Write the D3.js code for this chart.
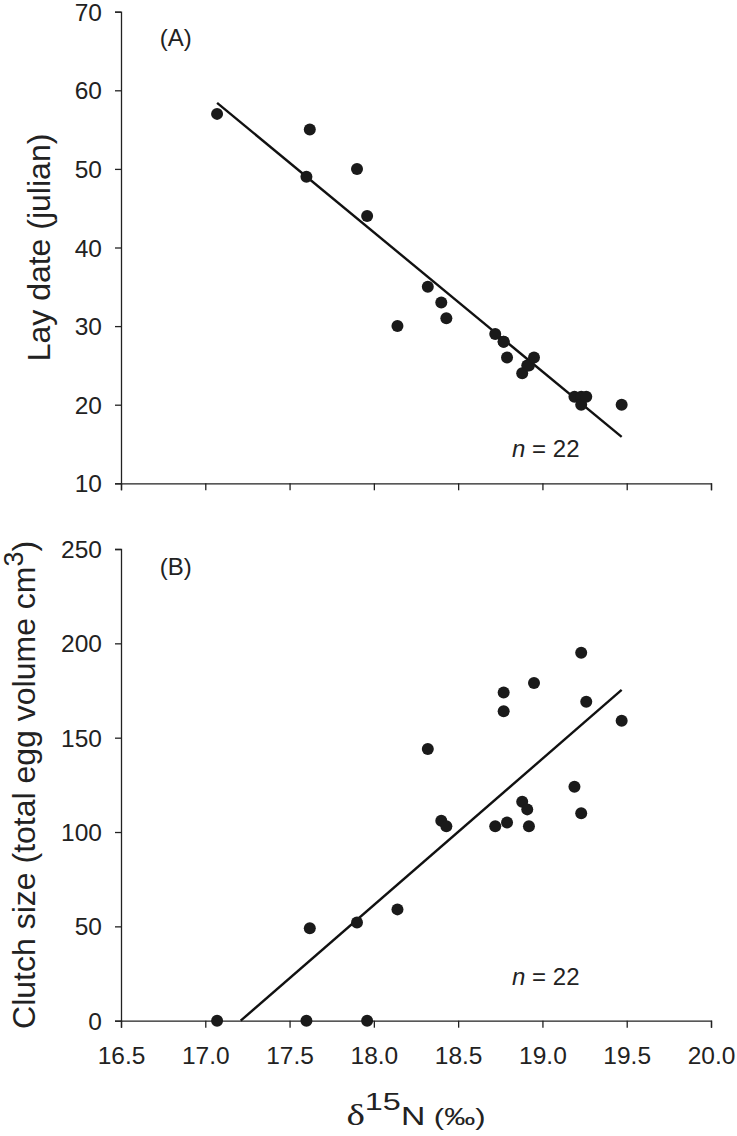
<!doctype html>
<html>
<head>
<meta charset="UTF-8" />
<script src="https://d3js.org/d3.v7.min.js"></script>
<style>
	body { margin: 0; background: #fff; }
	svg { display: block; }
	.tick text { font-family: "Liberation Sans", Arial, sans-serif; font-size: 24.5px; fill: #222; }
	.axis path, .axis line { stroke: #222; stroke-width: 1.3px; }
	.label { font-family: "Liberation Sans", Arial, sans-serif; fill: #222; }
</style>
</head>
<body>
<svg id="chart" width="737" height="1136"></svg>
<script>
	"use strict"

	// d15N values (per mil), one per nest
	const d15N = [17.07, 17.60, 17.62, 17.90, 17.96, 18.14, 18.32, 18.40, 18.43, 18.72, 18.77,
		18.77, 18.79, 18.88, 18.91, 18.92, 18.95, 19.19, 19.23, 19.23, 19.26, 19.47];
	// panel A: lay date (julian)
	const layDate = [57, 49, 55, 50, 44, 30, 35, 33, 31, 29, 28,
		28, 26, 24, 25, 25, 26, 21, 21, 20, 21, 20];
	// panel B: clutch size (total egg volume cm3)
	const clutch = [0, 0, 49, 52, 0, 59, 144, 106, 103, 103, 174,
		164, 105, 116, 112, 103, 179, 124, 195, 110, 169, 159];

	// fitted lines, end points
	const fitA = [[17.07, 58.4], [19.47, 15.9]];
	const fitB = [[17.21, 0], [19.47, 175.3]];

	const xTicks = [16.5, 17.0, 17.5, 18.0, 18.5, 19.0, 19.5, 20.0];
	const yTicksA = [10, 20, 30, 40, 50, 60, 70];
	const yTicksB = [0, 50, 100, 150, 200, 250];

	const svg = d3.select("#chart");

	const x = d3.scaleLinear().domain([16.5, 20.0]).range([121, 711]);
	const yA = d3.scaleLinear().domain([10, 70]).range([483.3, 11.7]);
	const yB = d3.scaleLinear().domain([0, 250]).range([1020.7, 549]);

	function panel(y, yTicks, values, fit, showXLabels) {
		const g = svg.append("g");

		g.append("g")
			.attr("class", "axis x")
			.attr("transform", "translate(0," + y.range()[0] + ")")
			.call(d3.axisBottom(x).tickValues(xTicks).tickSizeOuter(0).tickSize(7).tickPadding(19)
				.tickFormat(showXLabels ? d3.format(".1f") : ""));

		g.append("g")
			.attr("class", "axis y")
			.attr("transform", "translate(" + x.range()[0] + ",0)")
			.call(d3.axisLeft(y).tickValues(yTicks).tickSizeOuter(0).tickSize(6).tickPadding(13));

		g.selectAll(".axis.x .tick text").attr("dy", "0.71em");
		g.selectAll(".axis.y .tick text").attr("dy", "0.35em");

		g.append("line")
			.attr("x1", x(fit[0][0])).attr("y1", y(fit[0][1]))
			.attr("x2", x(fit[1][0])).attr("y2", y(fit[1][1]))
			.attr("stroke", "#111").attr("stroke-width", 2.4);

		g.selectAll("circle")
			.data(d15N.map(function (d, i) { return [d, values[i]]; }))
			.enter().append("circle")
			.attr("cx", function (d) { return x(d[0]); })
			.attr("cy", function (d) { return y(d[1]); })
			.attr("r", 6)
			.attr("fill", "#1a1a1a");

		return g;
	}

	const gA = panel(yA, yTicksA, layDate, fitA, false);
	const gB = panel(yB, yTicksB, clutch, fitB, true);

	// panel letters and sample size
	gA.append("text").attr("class", "label").attr("x", x(16.73)).attr("y", yA(65.6))
		.style("font-size", "24px").text("(A)");
	gB.append("text").attr("class", "label").attr("x", x(16.73)).attr("y", yB(236.2))
		.style("font-size", "24px").text("(B)");

	[[gA, yA(13.4)], [gB, yB(18.9)]].forEach(function (p) {
		const t = p[0].append("text").attr("class", "label").attr("x", x(18.82)).attr("y", p[1])
			.style("font-size", "24px");
		t.append("tspan").style("font-style", "italic").text("n");
		t.append("tspan").text(" = 22");
	});

	// axis titles
	svg.append("text").attr("class", "label")
		.attr("transform", "translate(50," + (yA.range()[0] + yA.range()[1]) / 2 + ") rotate(-90)")
		.attr("text-anchor", "middle")
		.style("font-size", "32px")
		.text("Lay date (julian)");

	const tb = svg.append("text").attr("class", "label")
		.attr("transform", "translate(35," + (yB.range()[0] + yB.range()[1]) / 2 + ") rotate(-90)")
		.attr("text-anchor", "middle")
		.style("font-size", "32px");
	tb.append("tspan").text("Clutch size (total egg volume cm");
	tb.append("tspan").attr("dy", -12).style("font-size", "27px").text("3");
	tb.append("tspan").attr("dy", 12).text(")");

	// x title is drawn wide in the original, so stretch it horizontally
	const tx = svg.append("text").attr("class", "label")
		.attr("transform", "translate(" + (x.range()[0] + x.range()[1]) / 2 + ",1125) scale(1.35,1)")
		.attr("text-anchor", "middle");
	tx.append("tspan").style("font-family", "'Liberation Serif', 'DejaVu Serif', serif").style("font-size", "29px").text("δ");
	tx.append("tspan").attr("dy", -15).style("font-size", "24px").text("15");
	tx.append("tspan").attr("dy", 15).style("font-size", "25px").text("N");
	tx.append("tspan").style("font-size", "23px").text(" (‰)");
</script>
</body>
</html>
